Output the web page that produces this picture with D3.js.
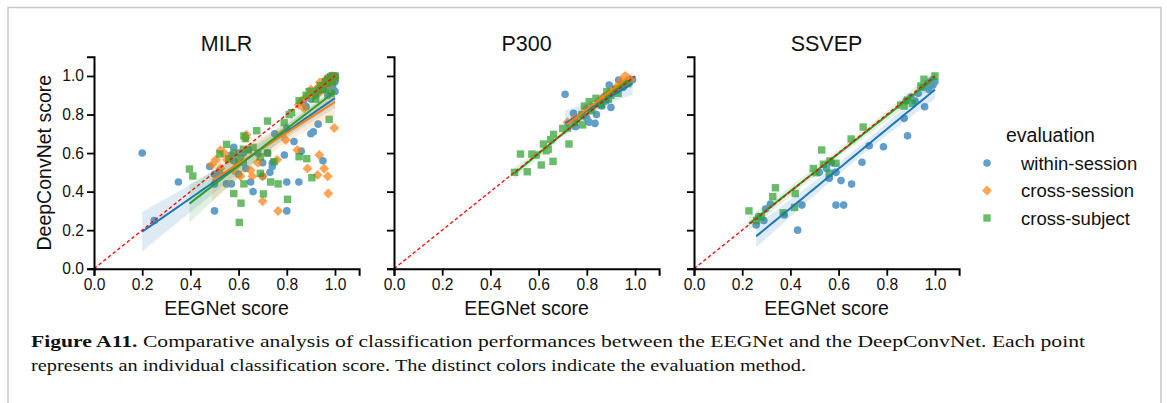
<!DOCTYPE html>
<html><head><meta charset="utf-8">
<script src="https://cdn.jsdelivr.net/npm/d3@7"></script>
<style>body{margin:0;background:#fff}svg{display:block}</style>
</head><body>
<svg id="chart" width="1167" height="403"></svg>
<script>
// ---------------- data ----------------
const panels = ["MILR", "P300", "SSVEP"];
const seriesNames = ["within-session", "cross-session", "cross-subject"];
const tickValues = [0.0, 0.2, 0.4, 0.6, 0.8, 1.0];
const tickLabels = ["0.0", "0.2", "0.4", "0.6", "0.8", "1.0"];
const xLabel = "EEGNet score";
const yLabel = "DeepConvNet score";
const legendTitle = "evaluation";

const milrWithin = [[0.20,0.60],[0.25,0.25],[0.35,0.45],[0.50,0.30],[0.48,0.53],[0.50,0.49],[0.50,0.44],[0.52,0.50],[0.55,0.44],[0.57,0.44],[0.58,0.63],[0.57,0.59],[0.60,0.49],[0.60,0.60],[0.62,0.55],[0.63,0.52],[0.65,0.45],[0.66,0.40],[0.68,0.60],[0.70,0.48],[0.70,0.55],[0.72,0.60],[0.74,0.55],[0.74,0.53],[0.73,0.50],[0.75,0.70],[0.79,0.59],[0.80,0.45],[0.80,0.30],[0.80,0.73],[0.83,0.66],[0.85,0.45],[0.86,0.61],[0.87,0.86],[0.88,0.84],[0.90,0.70],[0.91,0.71],[0.93,0.75],[0.95,0.56],[0.96,0.93],[0.98,0.98],[0.99,0.96],[1.00,0.92],[1.00,0.99],[0.97,0.90],
  [0.90,0.88],[0.92,0.90],[0.94,0.93],[0.95,0.95],[0.96,0.97],[0.97,0.96],[0.98,0.97],[0.99,0.99],[1.00,1.00],[1.00,0.97],[0.99,0.94],[0.98,1.00],[0.93,0.92],[0.97,0.99],[0.96,0.94],[0.62,0.60],[0.64,0.62],[0.58,0.56]];
const milrCrossSession = [[0.49,0.54],[0.525,0.615],[0.54,0.60],[0.505,0.565],[0.525,0.52],[0.553,0.565],[0.58,0.51],[0.595,0.54],[0.608,0.48],[0.63,0.68],[0.632,0.695],[0.65,0.51],[0.657,0.48],[0.68,0.55],[0.70,0.48],[0.70,0.35],[0.764,0.30],[0.76,0.565],[0.796,0.668],[0.844,0.616],[0.886,0.52],[0.935,0.59],[0.928,0.486],[0.955,0.52],[0.97,0.48],[0.972,0.39],[0.997,0.73],[0.9375,0.967],[0.90,0.93],[0.872,0.832],[0.99,1.00],[0.98,0.99],[0.92,0.92],[0.96,0.95],[0.85,0.85],[0.78,0.70],
  [0.88,0.89],[0.90,0.91],[0.91,0.90],[0.93,0.94],[0.94,0.92],[0.95,0.96],[0.96,0.98],[0.97,0.97],[0.98,0.96],[0.99,0.98],[1.00,0.99],[0.97,0.99],[0.95,0.93],[0.86,0.87]];
const milrCrossSubject = [[0.396,0.517],[0.41,0.481],[0.522,0.595],[0.55,0.645],[0.622,0.689],[0.628,0.675],[0.675,0.716],[0.72,0.766],[0.58,0.39],[0.61,0.34],[0.603,0.24],[0.622,0.44],[0.703,0.388],[0.733,0.45],[0.764,0.44],[0.803,0.36],[0.851,0.581],[0.883,0.571],[0.904,0.472],[0.976,0.775],[0.789,0.758],[0.81,0.80],[0.851,0.872],[0.893,0.919],[0.969,0.962],[1.00,1.00],[0.983,0.91],[0.69,0.495],[0.64,0.616],[0.747,0.555],[0.608,0.573],[0.69,0.58],[0.72,0.60],[0.56,0.57],[0.60,0.56],[0.92,0.88],[0.95,0.93],[0.82,0.81],[0.66,0.63],
  [0.88,0.90],[0.90,0.92],[0.92,0.91],[0.94,0.95],[0.96,0.97],[0.97,0.98],[0.98,0.99],[0.99,0.97],[1.00,0.99],[0.99,1.00],[0.95,0.94],[0.93,0.93],[0.62,0.62],[0.58,0.60]];

const p300Within = [[0.71,0.905],[0.745,0.806],[0.753,0.737],[0.80,0.78],[0.81,0.76],[0.834,0.754],[0.84,0.80],[0.863,0.844],[0.90,0.837],[0.893,0.953],[0.932,0.979],[0.99,0.98],[0.92,0.93],[0.87,0.89],[0.96,0.96],[0.95,0.94],[0.88,0.87]];
const p300CrossSession = [[0.72,0.76],[0.75,0.78],[0.78,0.80],[0.80,0.83],[0.82,0.84],[0.85,0.87],[0.87,0.89],[0.89,0.91],[0.91,0.93],[0.93,0.95],[0.94,0.97],[0.95,0.99],[0.96,1.00],[0.97,0.99],[0.98,0.98],[0.96,0.97]];
const p300CrossSubject = [[0.50,0.50],[0.525,0.595],[0.553,0.503],[0.572,0.595],[0.59,0.59],[0.611,0.538],[0.62,0.647],[0.632,0.612],[0.64,0.62],[0.66,0.557],[0.662,0.697],[0.65,0.67],[0.70,0.728],[0.726,0.647],[0.72,0.73],[0.75,0.76],[0.783,0.746],[0.79,0.844],[0.78,0.80],[0.81,0.867],[0.82,0.82],[0.838,0.884],[0.85,0.86],[0.86,0.85],[0.883,0.919],[0.89,0.88],[0.90,0.90],[0.92,0.93],[0.93,0.91],[0.95,0.95],[0.97,0.96]];

const ssvepWithin = [[0.258,0.227],[0.268,0.27],[0.29,0.25],[0.297,0.31],[0.317,0.336],[0.375,0.279],[0.43,0.20],[0.448,0.33],[0.561,0.469],[0.589,0.50],[0.61,0.457],[0.589,0.33],[0.621,0.33],[0.654,0.439],[0.697,0.552],[0.727,0.638],[0.786,0.633],[0.872,0.78],[0.886,0.69],[0.917,0.87],[0.957,0.84],[0.975,0.93],[0.992,0.953],[1.00,0.97],
  [0.55,0.52],[0.57,0.55],[0.52,0.50],[0.90,0.89],[0.93,0.91],[0.95,0.94],[0.97,0.96],[0.88,0.87],[0.99,0.98],[0.98,0.97]];
const ssvepCrossSubject = [[0.228,0.30],[0.26,0.25],[0.28,0.27],[0.327,0.374],[0.338,0.42],[0.37,0.29],[0.42,0.39],[0.417,0.318],[0.495,0.52],[0.506,0.498],[0.53,0.616],[0.537,0.542],[0.561,0.495],[0.589,0.547],[0.564,0.559],[0.652,0.673],[0.702,0.735],[0.858,0.849],[0.872,0.844],[0.886,0.875],[0.906,0.858],[0.941,0.948],[0.954,0.983],[1.00,1.00]];
const ssvepCrossSession = [];

const captionBold = "Figure A11.";
const captionLine1 = " Comparative analysis of classification performances between the EEGNet and the DeepConvNet. Each point";
const captionLine2 = "represents an individual classification score. The distinct colors indicate the evaluation method.";

// ---------------- layout ----------------
const colors = ["#1f77b4", "#ff7f0e", "#2ca02c"];
const shapes = ["circle", "diamond", "square"];
const panelData = [
  [milrWithin, milrCrossSession, milrCrossSubject],
  [p300Within, p300CrossSession, p300CrossSubject],
  [ssvepWithin, ssvepCrossSession, ssvepCrossSubject]
];
const panelX0 = [94, 394, 694];
const unitX = 241;
const yBottom = 268.7, yTop = 56.7;
const FONT = "'Liberation Sans', Arial, Helvetica, sans-serif";

const svg = d3.select("#chart");
svg.append("path").attr("d", "M8,403 L8,7.5 L1161,7.5 L1161,403")
  .attr("fill", "none").attr("stroke", "#c8c8c8").attr("stroke-width", 1.5);

function regression(pts) {
  const n = pts.length;
  const mx = d3.mean(pts, d => d[0]), my = d3.mean(pts, d => d[1]);
  let sxx = 0, sxy = 0;
  pts.forEach(d => { sxx += (d[0]-mx)**2; sxy += (d[0]-mx)*(d[1]-my); });
  const b = sxy / sxx, a = my - b*mx;
  let sse = 0; pts.forEach(d => { sse += (d[1] - a - b*d[0])**2; });
  const s = Math.sqrt(sse / (n-2));
  const t = 2.02;
  const xmin = d3.min(pts, d => d[0]), xmax = d3.max(pts, d => d[0]);
  const xs = d3.range(0, 51).map(i => xmin + (xmax-xmin)*i/50);
  return xs.map(x => {
    const yh = a + b*x;
    const se = s * Math.sqrt(1/n + (x-mx)**2/sxx);
    return {x, y: yh, lo: yh - t*se, hi: yh + t*se};
  });
}

function marker(g, shape, color, x, y) {
  if (shape === "circle") {
    g.append("circle").attr("cx", x).attr("cy", y).attr("r", 3.8).attr("fill", color);
  } else if (shape === "square") {
    g.append("rect").attr("x", x-3.7).attr("y", y-3.7).attr("width", 7.4).attr("height", 7.4).attr("fill", color);
  } else {
    const h = 5;
    g.append("path").attr("d", `M${x},${y-h}L${x+h},${y}L${x},${y+h}L${x-h},${y}Z`).attr("fill", color);
  }
}

panels.forEach((name, pi) => {
  const x = d3.scaleLinear().domain([0, 1.1]).range([panelX0[pi], panelX0[pi] + 1.1*unitX]);
  const y = d3.scaleLinear().domain([0, 1.1]).range([yBottom, yTop]);
  const g = svg.append("g");

  panelData[pi].forEach((pts, si) => {
    const sg = g.append("g").attr("opacity", 0.7);
    pts.forEach(d => marker(sg, shapes[si], colors[si], x(d[0]), y(d[1])));
  });
  panelData[pi].forEach((pts, si) => {
    if (pts.length < 3) return;
    const fit = regression(pts);
    g.append("path").datum(fit)
      .attr("d", d3.area().x(d => x(d.x)).y0(d => y(d.lo)).y1(d => y(d.hi)))
      .attr("fill", colors[si]).attr("opacity", 0.15);
  });
  panelData[pi].forEach((pts, si) => {
    if (pts.length < 3) return;
    const fit = regression(pts);
    g.append("path").datum(fit)
      .attr("d", d3.line().x(d => x(d.x)).y(d => y(d.y)))
      .attr("fill", "none").attr("stroke", colors[si]).attr("stroke-width", 2);
  });
  g.append("line").attr("x1", x(0)).attr("y1", y(0)).attr("x2", x(1)).attr("y2", y(1))
    .attr("stroke", "#ff0000").attr("stroke-width", 1.3).attr("stroke-dasharray", "3.5,2.5");

  const xAxis = g.append("g").attr("transform", `translate(0,${yBottom})`)
    .call(d3.axisBottom(x).tickValues(tickValues).tickFormat((d,i) => tickLabels[i]).tickSizeOuter(0).tickSize(7).tickPadding(3));
  const yAxis = g.append("g").attr("transform", `translate(${panelX0[pi]},0)`)
    .call(d3.axisLeft(y).tickValues(tickValues).tickFormat((d,i) => pi === 0 ? tickLabels[i] : "").tickSizeOuter(0).tickSize(7).tickPadding(3));
  [xAxis, yAxis].forEach(ax => {
    ax.select(".domain").attr("stroke", "#000").attr("stroke-width", 2);
    ax.selectAll(".tick line").attr("stroke", "#000").attr("stroke-width", 1.8);
    ax.selectAll(".tick text").attr("fill", "#111").style("font-family", FONT).style("font-size", "15.6px");
  });

  const cx = panelX0[pi] + 0.55*unitX;
  g.append("text").attr("x", cx).attr("y", 44).attr("text-anchor", "middle").attr("dominant-baseline", "central")
    .style("font-family", FONT).style("font-size", "21.5px").attr("fill", "#111").text(name);
  g.append("text").attr("x", cx).attr("y", 308).attr("text-anchor", "middle").attr("dominant-baseline", "central")
    .style("font-family", FONT).style("font-size", "19.5px").attr("fill", "#111").text(xLabel);
  if (pi === 0) {
    g.append("text").attr("transform", `translate(44,${(yTop+yBottom)/2}) rotate(-90)`)
      .attr("text-anchor", "middle").attr("dominant-baseline", "central")
      .style("font-family", FONT).style("font-size", "19.5px").attr("fill", "#111").text(yLabel);
  }
});

const lg = svg.append("g");
lg.append("text").attr("x", 1006).attr("y", 135).attr("dominant-baseline", "central")
  .style("font-family", FONT).style("font-size", "19.5px").attr("fill", "#111").text(legendTitle);
seriesNames.forEach((s, i) => {
  const yy = 163 + i*27.5;
  const mg = lg.append("g").attr("opacity", 0.7);
  marker(mg, shapes[i], colors[i], 987, yy);
  lg.append("text").attr("x", 1021).attr("y", yy).attr("dominant-baseline", "central")
    .style("font-family", FONT).style("font-size", "18.5px").attr("fill", "#111").text(s);
});

const SERIF = "'Liberation Serif', 'Times New Roman', serif";
const c1 = svg.append("text").attr("x", 31).attr("y", 347)
  .style("font-family", SERIF).style("font-size", "16.5px").attr("fill", "#111");
c1.append("tspan").attr("font-weight", "bold").text(captionBold);
c1.append("tspan").text(captionLine1);
const c2 = svg.append("text").attr("x", 31).attr("y", 371)
  .style("font-family", SERIF).style("font-size", "16.5px").attr("fill", "#111").text(captionLine2);
[[c1, 1054], [c2, 775]].forEach(([t, w]) => {
  t.attr("textLength", w).attr("lengthAdjust", "spacingAndGlyphs");
});
</script>
</body></html>
